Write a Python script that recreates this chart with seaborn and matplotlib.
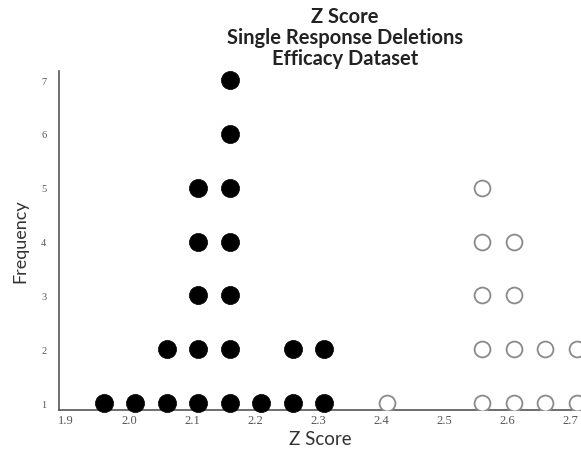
import matplotlib
matplotlib.use("Agg")
import matplotlib.pyplot as plt
import seaborn as sns
import pandas as pd

# Z score bins and how many deleted responses fell into each
filled_z = [1.96, 2.01, 2.06, 2.11, 2.16, 2.21, 2.26, 2.31]
filled_counts = [1, 1, 2, 5, 7, 1, 2, 2]
open_z = [2.41, 2.56, 2.61, 2.66, 2.71]
open_counts = [1, 5, 4, 2, 2]

x_ticks = [1.9, 2.0, 2.1, 2.2, 2.3, 2.4, 2.5, 2.6, 2.7]
y_ticks = [1, 2, 3, 4, 5, 6, 7]
title_lines = ["Z Score", "Single Response Deletions", "Efficacy Dataset"]


def stack(zs, counts):
    # one row per dot, stacked upward from frequency 1
    rows = []
    for z, n in zip(zs, counts):
        for k in range(1, n + 1):
            rows.append({"z": z, "freq": k})
    return pd.DataFrame(rows)


df_filled = stack(filled_z, filled_counts)
df_open = stack(open_z, open_counts)

sns.set_style("white")
plt.rcParams["font.family"] = ["Lato", "DejaVu Sans"]

fig = plt.figure(figsize=(5.81, 4.52), dpi=100)
ax = fig.add_axes([0.1015, 0.0907, 0.8985, 0.750])

sns.scatterplot(data=df_filled, x="z", y="freq", ax=ax, s=170,
                color="black", edgecolor="black", linewidth=0.5,
                legend=False, clip_on=False, zorder=3)
sns.scatterplot(data=df_open, x="z", y="freq", ax=ax, s=130,
                facecolor="white", edgecolor="#8a8a8a", linewidth=1.3,
                legend=False, zorder=3)

ax.set_xlim(1.889, 2.717)
ax.set_ylim(0.87, 7.17)
ax.set_xticks(x_ticks)
ax.set_xticklabels([f"{t:.1f}" for t in x_ticks])
ax.set_yticks(y_ticks)
ax.set_yticklabels([str(t) for t in y_ticks])

for lbl in ax.get_xticklabels():
    lbl.set_fontfamily("Liberation Serif")
    lbl.set_fontsize(9)
    lbl.set_color("#555555")
for lbl in ax.get_yticklabels():
    lbl.set_fontfamily("Liberation Serif")
    lbl.set_fontsize(7.5)
    lbl.set_color("#555555")
ax.tick_params(axis="x", length=3, width=0.8, color="#777777", pad=0, direction="out")
ax.tick_params(axis="y", length=0, pad=9)

sns.despine(ax=ax, top=True, right=True)
for side in ("left", "bottom"):
    ax.spines[side].set_color("#555555")
    ax.spines[side].set_linewidth(1.2)

ax.set_xlabel("Z Score", fontsize=13.5, color="#333333", labelpad=3)
ax.set_ylabel("Frequency", fontsize=13, color="#333333", labelpad=9)

fig.text(0.594, 0.985, "\n".join(title_lines), ha="center", va="top",
         fontsize=14.5, fontweight="bold", color="#222222", linespacing=1.08)

fig.savefig("out.png", dpi=100, facecolor="white")
